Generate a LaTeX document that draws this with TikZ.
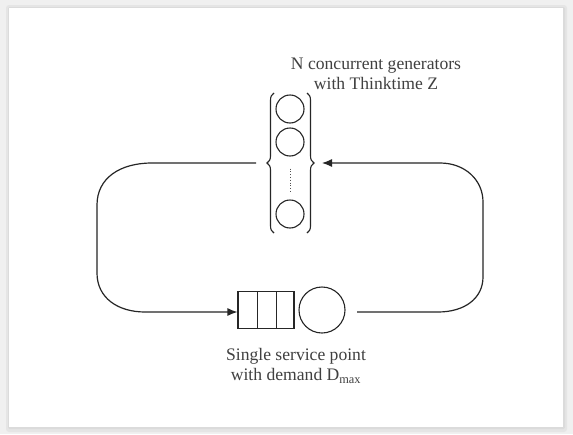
\documentclass[tikz,border=0pt]{standalone}
\usepackage{fontspec}
\setmainfont{Liberation Serif}
\usetikzlibrary{decorations.pathreplacing,arrows.meta}
\definecolor{ink}{HTML}{262626}
\definecolor{txt}{HTML}{404040}
\begin{document}
\begin{tikzpicture}[x=1pt,y=-1pt,
  wire/.style={draw=ink,line width=1.2pt},
  arr/.style={wire,-{Latex[length=10pt,width=8pt]}},
  gen/.style={circle,draw=ink,line width=1.1pt,minimum size=28pt,inner sep=0pt},
  brc/.style={draw=ink,line width=1.1pt,decorate,decoration={brace,amplitude=7pt,aspect=0.5}},
  lbl/.style={text=txt,font=\fontsize{17.6}{20}\selectfont,align=center,inner sep=0pt}]
\useasboundingbox (0,0) rectangle (573,434);
% card with shadow
\fill[black!6] (0,0) rectangle (573,434);
\fill[black!10,rounded corners=3pt] (6,5) rectangle (567,432);
\fill[black!14,rounded corners=2pt] (8,7) rectangle (565,429);
\fill[white] (9,8) rectangle (563,427);
% generators
\node[gen] (g1) at (290,109) {};
\node[gen] (g2) at (290,142) {};
\node[gen] (g3) at (290,214) {};
\draw[ink!80,line width=0.8pt,dotted] (g2.south)++(0,12) coordinate (d1) -- ++(0,24) coordinate (d2);
\draw[brc] (274,233) -- (274,93);
\draw[brc] (307,93) -- (307,233);
\coordinate (lb) at (256,163);
\coordinate (rb) at (322,163);
% queue and server
\node[draw=ink,line width=1.1pt,minimum width=56pt,minimum height=37pt,inner sep=0pt] (q) at (266,310) {};
\draw[ink,line width=0.9pt] (257,291.5) -- (257,328.5) (276,291.5) -- (276,328.5);
\node[gen,minimum size=46pt] (s) at (322,310) {};
\coordinate (qin) at (q.west |- 0,312);
\coordinate (sout) at (357,312);
% connectors
\draw[arr] (lb) -- (152,163) .. controls (120,163) and (97,178) .. (97,205)
  -- (97,273) .. controls (97,298) and (118,312) .. (145,312) -- (qin);
\draw[arr] (sout) -- (438,312) .. controls (465,312) and (483,298) .. (483,277)
  -- (483,202) .. controls (483,180) and (465,163) .. (440,163) -- (rb);
% labels
\node[lbl] (t1) at (376,74) {N concurrent generators\\with Thinktime Z};
\node[lbl] (t2) at (296,366) {Single service point\\with demand D\textsubscript{max}};
\end{tikzpicture}
\end{document}
